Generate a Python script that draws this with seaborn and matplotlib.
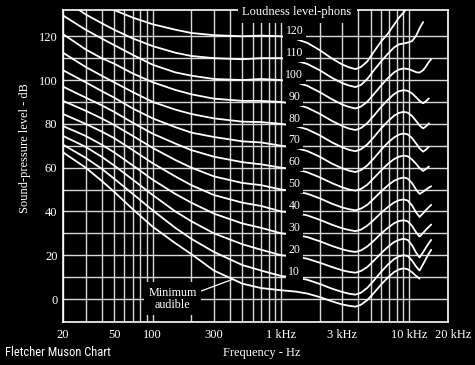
import pandas as pd
import matplotlib
matplotlib.use("Agg")
import matplotlib.pyplot as plt
import matplotlib.transforms as mtransforms
from matplotlib.ticker import NullFormatter
import seaborn as sns

freq = [20, 30, 40, 50, 70, 100, 150, 200, 300, 500, 700, 1000,
        1300, 1600, 2000, 2500, 3000, 3400, 3800, 4200, 4700, 5300, 6000,
        6800, 7600, 8300, 9000, 9700, 10500, 11300, 12000, 12800, 13500,
        14200, 14800]

# sound-pressure level (dB) of each equal-loudness curve, None = not drawn
phon_120 = [None, None, 135, 132, 128.5, 125.5, 123, 121.5, 120.5, 120, 120.3, 120,
            118.8, 117, 113.7, 109.8, 107.1, 105.8, 105, 106, 108.5, 113, 117.5,
            121.2, 125.3, 128.5, 130.8, 133.5, None, None, None, None, None,
            None, None]
phon_110 = [137, 130, 126, 123, 119, 115.5, 112.5, 111, 110, 109.5, 110, 110,
            108.9, 107.4, 104.5, 101, 98.6, 97.5, 96.8, 97.8, 100.5, 104.5, 108.4,
            112, 114.9, 116.3, 116.7, 117.1, 117.8, 120.3, 123.6, 126.5, None,
            None, None]
phon_100 = [129.5, 123, 119, 116, 111.5, 107, 103.5, 102, 100.5, 100, 100.5, 100,
            99, 97.4, 94.5, 91.2, 88.8, 87.7, 87, 87.9, 90.1, 93.6, 97.4,
            100.9, 103.5, 104.8, 105.3, 105.1, 104.4, 103.6, 103.4, 104.5, 106.3,
            108.3, 109.6]
phon_90 = [121, 114, 110, 107.5, 103, 99, 95.5, 93.5, 91.5, 90.5, 90.5, 90,
           89, 87.4, 84.6, 81.3, 79, 77.8, 77.2, 78.1, 80.3, 83.8, 87.6,
           91, 93.6, 94.9, 95.4, 95.1, 93.9, 92.1, 90.5, 89.4, 90.4,
           91.6, None]
phon_80 = [112.5, 106, 102, 99, 94.5, 90, 86.5, 84.5, 82.5, 81, 80.8, 80,
           79, 77.5, 74.8, 71.5, 69.3, 68.1, 67.5, 68.4, 70.6, 74, 77.8,
           81.2, 83.7, 85, 85.5, 85.1, 83.6, 81.3, 79.3, 77.9, 78.9,
           80.2, None]
phon_70 = [104.5, 99, 95, 92, 87, 82.5, 78.5, 76, 74, 72, 71.5, 70,
           69, 67.6, 65, 61.8, 59.7, 58.6, 58, 58.9, 61, 64.3, 68,
           71.4, 73.8, 75.1, 75.6, 75.2, 73.5, 71, 68.8, 67.3, 68.3,
           69.6, None]
phon_60 = [97, 92, 88.5, 85.5, 80.5, 75.5, 71, 68, 65, 62.5, 61.5, 60,
           59.2, 57.9, 55.6, 52.9, 51, 50, 49.5, 50.3, 52.2, 55.3, 58.6,
           61.7, 63.9, 65, 65.5, 65.2, 63.7, 61.7, 59.8, 58.5, 59.4,
           60.5, None]
phon_50 = [90.5, 86, 82.5, 79.5, 74.5, 69, 63.5, 60, 56, 53, 52, 50,
           49.2, 48.1, 46, 43.5, 41.8, 41, 40.5, 41.3, 43, 45.9, 49,
           51.9, 54, 55, 55.5, 55, 52.9, 49.9, 48, 49, 50,
           50.9, 51.5]
phon_40 = [84.5, 80, 76.5, 73.5, 68, 62, 56, 52, 47.5, 44, 42.5, 40,
           39.3, 38.2, 36.2, 33.9, 32.3, 31.5, 31, 31.7, 33.5, 36.2, 39.3,
           42, 44.1, 45.1, 45.5, 45, 42.7, 39.5, 37.5, 39.2, 40.7,
           42, 43]
phon_30 = [79, 74.5, 70.5, 67, 61, 54.5, 48, 44, 39, 34.5, 32.5, 30,
           29.3, 28.3, 26.4, 24.2, 22.7, 21.9, 21.5, 22.2, 24, 26.7, 29.8,
           32.5, 34.6, 35.6, 36, 35.5, 33.4, 30.4, 28.5, 30.2, 31.7,
           33, 34]
phon_20 = [74.5, 69.5, 65, 61, 54.5, 47.5, 40, 35.5, 30, 25, 22.5, 20,
           19.4, 18.4, 16.6, 14.6, 13.1, 12.4, 12, 12.8, 14.6, 17.6, 20.8,
           23.8, 26, 27, 27.5, 27, 24.5, 21.1, 19, 21.4, 23.6,
           25.6, 27]
phon_10 = [70.5, 64.5, 59.5, 55, 48, 40.5, 32.5, 27.5, 21.5, 15.5, 13, 10.5,
           9.8, 8.8, 6.9, 4.7, 3.2, 2.4, 2, 2.9, 5.1, 8.5, 12.3,
           15.7, 18.2, 19.5, 20, 19.6, 17.5, 14.8, 13, 15.9, 18.5,
           20.8, 22.5]
minimum = [67, 60, 54, 49, 41, 33, 25.5, 20.5, 13, 7, 5, 4,
           3.4, 2.5, 0.9, -1.1, -2.5, -3.1, -3.5, -2.6, -0.5, 2.8, 6.5,
           9.8, 12.3, 13.5, 14, 13.6, 12.2, 10.5, 9.3, None, None,
           None, None]

phon_levels = [120, 110, 100, 90, 80, 70, 60, 50, 40, 30, 20, 10]
phon_curves = [phon_120, phon_110, phon_100, phon_90, phon_80, phon_70,
               phon_60, phon_50, phon_40, phon_30, phon_20, phon_10]

x_tick_values = [20, 50, 100, 300, 1000, 3000, 10000, 20000]
x_tick_labels = ["20", "50", "100", "300", "1 kHz", "3 kHz", "10 kHz", "20 kHz"]
x_grid = [30, 40, 60, 70, 80, 90, 200, 400, 500, 600, 700, 800, 900,
          2000, 4000, 5000, 6000, 7000, 8000, 9000]

# long table for seaborn
rows = []
for name, levels in zip([str(p) for p in phon_levels] + ["min"], phon_curves + [minimum]):
    for f, db in zip(freq, levels):
        if db is not None:
            rows.append((name, f, db))
df = pd.DataFrame(rows, columns=["curve", "freq", "spl"])

sns.set_style("dark", {"axes.facecolor": "black", "figure.facecolor": "black"})
plt.rcParams["font.family"] = ["Liberation Serif", "DejaVu Serif"]
plt.rcParams["text.color"] = "white"

fig = plt.figure(figsize=(4.75, 3.65), dpi=100)
ax = fig.add_axes([63 / 475, 43 / 365, 385 / 475, 312 / 365])
ax.set_xscale("log")

sns.lineplot(data=df, x="freq", y="spl", units="curve", estimator=None,
             color="white", lw=1.3, sort=False, ax=ax, zorder=3)

ax.set_xlim(20, 20000)
ax.set_ylim(-10.5, 132)

# grid lines
ax.set_xticks(x_tick_values)
ax.set_xticklabels(x_tick_labels)
ax.set_xticks(x_grid, minor=True)
ax.xaxis.set_minor_formatter(NullFormatter())
ax.set_yticks(range(0, 121, 20))
ax.set_yticks(range(10, 121, 20), minor=True)
ax.grid(True, which="both", color="#d8d8d8", lw=1.0)
ax.set_axisbelow(True)
ax.tick_params(which="both", length=0, colors="white", labelsize=9)
ax.tick_params(axis="x", pad=5)
ax.tick_params(axis="y", pad=4)
for sp in ax.spines.values():
    sp.set_color("white")
    sp.set_linewidth(1.2)

# last frequency label sits a little right of the frame like the original
last = ax.get_xticklabels()[-1]
last.set_transform(last.get_transform()
                   + mtransforms.ScaledTranslation(0.05, 0, fig.dpi_scale_trans))

ax.set_xlabel("Frequency - Hz", fontsize=9, color="white")
ax.xaxis.set_label_coords(0.517, -0.08)
ax.set_ylabel("Sound-pressure level - dB", fontsize=9, color="white")
ax.yaxis.set_label_coords(-0.083, 0.558)

black_box = dict(fc="black", ec="none", pad=2)

# phon numbers sit just above their curves near 1.3 kHz
for p in phon_levels:
    ax.text(1270, p + 2.4, str(p), ha="center", va="center", fontsize=8.5,
            color="white", bbox=black_box, zorder=5)

ax.text(0.608, 0.994, "Loudness level-phons", transform=ax.transAxes,
        ha="center", va="center", fontsize=9, color="white",
        bbox=dict(fc="black", ec="none", pad=3.5), zorder=6, clip_on=False)

ax.annotate("Minimum\naudible", xy=(420, 9), xytext=(143, 0.2),
            ha="center", va="center", fontsize=8.7, color="white", linespacing=1.0,
            bbox=dict(fc="black", ec="none", pad=3), zorder=6,
            arrowprops=dict(arrowstyle="-", color="white", lw=0.9,
                            relpos=(1.0, 0.75), shrinkA=0, shrinkB=0))

fig.text(0.011, 0.033, "Fletcher Muson Chart", ha="left", va="center",
         fontsize=9, color="white", fontstretch="condensed",
         family=["Roboto Condensed", "Open Sans Condensed", "Liberation Sans Narrow",
                 "DejaVu Sans Condensed", "DejaVu Sans"])

fig.savefig("out.png", dpi=100, facecolor="black")
